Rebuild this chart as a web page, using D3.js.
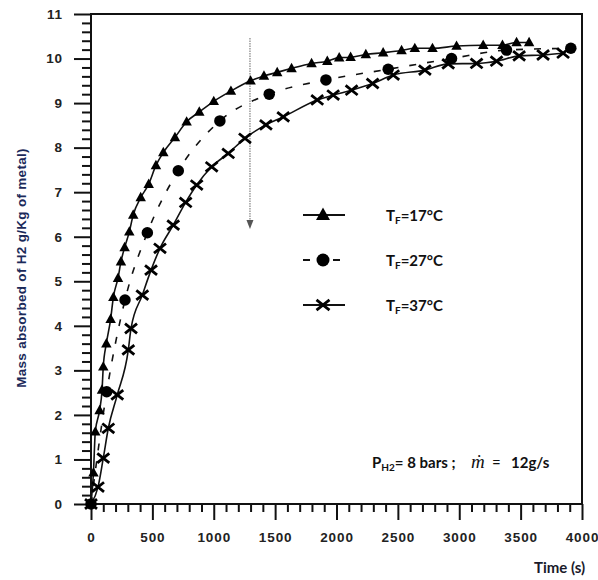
<!DOCTYPE html>
<html>
<head>
<meta charset="utf-8">
<script src="https://cdn.jsdelivr.net/npm/d3@7"></script>
<style>
  html, body { margin: 0; padding: 0; background: #fff; }
  svg { display: block; }
</style>
</head>
<body>
<svg id="chart" width="598" height="580"></svg>
<script>
// Hydrogen absorption curves at three fluid temperatures
const timeTicks = [0, 500, 1000, 1500, 2000, 2500, 3000, 3500, 4000];
const massTicks = [0, 1, 2, 3, 4, 5, 6, 7, 8, 9, 10, 11];

// T_F = 17 °C  (time s, mass g/kg)
const t17 = [0, 20, 35, 70, 90, 100, 125, 160, 182, 220, 244, 274, 312, 344, 405, 470, 529, 589, 684, 779, 882, 1000, 1140, 1300, 1409, 1517, 1634, 1797, 1925, 2022, 2115, 2239, 2380, 2530, 2638, 2782, 2978, 3195, 3352, 3467, 3569];
const m17 = [0, 0.7, 1.62, 2.1, 2.56, 3.08, 3.6, 4.15, 4.64, 5.07, 5.44, 5.76, 6.11, 6.49, 6.88, 7.18, 7.6, 7.89, 8.23, 8.58, 8.8, 9.04, 9.27, 9.5, 9.61, 9.69, 9.78, 9.89, 9.94, 10.02, 10.03, 10.09, 10.13, 10.18, 10.23, 10.23, 10.28, 10.3, 10.3, 10.36, 10.36];

// T_F = 27 °C
const t27 = [0, 128, 277, 459, 711, 1050, 1452, 1914, 2421, 2937, 3385, 3909];
const m27 = [0, 2.52, 4.58, 6.09, 7.48, 8.6, 9.2, 9.52, 9.76, 10.0, 10.19, 10.23];

// T_F = 37 °C
const t37 = [0, 57, 100, 141, 214, 304, 326, 418, 489, 562, 670, 771, 861, 983, 1118, 1254, 1425, 1566, 1843, 1973, 2123, 2294, 2462, 2720, 2910, 3141, 3304, 3488, 3683, 3846];
const m37 = [0, 0.38, 1.03, 1.7, 2.45, 3.46, 3.94, 4.69, 5.25, 5.74, 6.26, 6.77, 7.16, 7.57, 7.87, 8.21, 8.51, 8.69, 9.07, 9.18, 9.29, 9.44, 9.63, 9.74, 9.88, 9.89, 9.94, 10.06, 10.08, 10.12];

const arrowTime = 1295;

const svg = d3.select("#chart");
const plotL = 91, plotR = 582, plotT = 14, plotB = 504;

const x = d3.scaleLinear().domain([0, 4000]).range([plotL, plotR]);
const y = d3.scaleLinear().domain([0, 11]).range([plotB, plotT]);

const tickFont = "'Liberation Sans', Arial, sans-serif";
const textFont = "Lato, 'Open Sans', sans-serif";

// Frame
svg.append("rect")
  .attr("x", plotL).attr("y", plotT)
  .attr("width", plotR - plotL).attr("height", plotB - plotT)
  .attr("fill", "none").attr("stroke", "#111").attr("stroke-width", 2);

// Minor ticks
const minorX = d3.range(0, 4001, 100).filter(v => v % 500 !== 0);
const minorY = d3.range(0, 55).map(i => +(i * 0.2).toFixed(1)).filter(v => Math.abs(v - Math.round(v)) > 1e-6);

const styleAxis = g => {
  g.select(".domain").remove();
  g.selectAll(".tick line").attr("stroke", "#111").attr("stroke-width", 2);
};

svg.append("g").attr("transform", `translate(0,${plotB})`)
  .call(d3.axisBottom(x).tickValues(minorX).tickSize(8).tickFormat(""))
  .call(styleAxis);
svg.append("g").attr("transform", `translate(${plotL},0)`)
  .call(d3.axisLeft(y).tickValues(minorY).tickSize(9).tickFormat(""))
  .call(styleAxis);

// Major ticks with labels
const gx = svg.append("g").attr("transform", `translate(0,${plotB})`)
  .call(d3.axisBottom(x).tickValues(timeTicks).tickSize(16).tickPadding(12).tickFormat(d3.format("d")))
  .call(styleAxis);
gx.selectAll("text").attr("font-family", tickFont).attr("font-size", 13.5)
  .attr("font-weight", "bold").attr("fill", "#222").attr("letter-spacing", 0.9);

const gy = svg.append("g").attr("transform", `translate(${plotL},0)`)
  .call(d3.axisLeft(y).tickValues(massTicks).tickSize(17).tickPadding(11).tickFormat(d3.format("d")))
  .call(styleAxis);
gy.selectAll("text").attr("font-family", tickFont).attr("font-size", 13.5)
  .attr("font-weight", "bold").attr("fill", "#222").attr("letter-spacing", 0.9);

// Axis lines on top of the ticks
svg.append("line").attr("x1", plotL).attr("x2", plotR).attr("y1", plotB).attr("y2", plotB)
  .attr("stroke", "#111").attr("stroke-width", 2);
svg.append("line").attr("x1", plotL).attr("x2", plotL).attr("y1", plotT).attr("y2", plotB)
  .attr("stroke", "#111").attr("stroke-width", 2);

// Axis titles
svg.append("text")
  .attr("transform", `translate(26,268) rotate(-90)`)
  .attr("text-anchor", "middle")
  .attr("font-family", tickFont).attr("font-size", 13.5).attr("font-weight", "bold")
  .attr("letter-spacing", 0.3)
  .attr("fill", "#1b2a5a")
  .text("Mass  absorbed of H2 g/Kg of metal)");

svg.append("text")
  .attr("x", 534).attr("y", 573)
  .attr("font-family", textFont).attr("font-size", 15).attr("font-weight", "bold")
  .attr("fill", "#1a1a2a")
  .text("Time (s)");

// Time-direction arrow
const ax = x(arrowTime);
svg.append("line").attr("x1", ax).attr("x2", ax).attr("y1", 38).attr("y2", 221)
  .attr("stroke", "#9a9a9a").attr("stroke-width", 1.5).attr("stroke-dasharray", "1.5,1");
svg.append("path")
  .attr("d", `M${ax - 3.5},220 L${ax + 3.5},220 L${ax},229 Z`)
  .attr("fill", "#555");

// Curves
const lineGen = d3.line().x(d => x(d[0])).y(d => y(d[1])).curve(d3.curveMonotoneX);
const series = [
  { t: t17, m: m17, marker: "triangle", dash: null },
  { t: t27, m: m27, marker: "circle", dash: "7,11" },
  { t: t37, m: m37, marker: "cross", dash: null }
];

series.forEach(s => {
  const pts = s.t.map((t, i) => [t, s.m[i]]);
  svg.append("path").datum(pts)
    .attr("d", lineGen)
    .attr("fill", "none").attr("stroke", "#111").attr("stroke-width", 1.6)
    .attr("stroke-dasharray", s.dash);
});

function drawMarker(g, kind, cx, cy, size) {
  if (kind === "triangle") {
    const h = size * 0.9;
    g.append("path")
      .attr("d", `M${cx},${cy - h * 0.6} L${cx + size / 2},${cy + h * 0.4} L${cx - size / 2},${cy + h * 0.4} Z`)
      .attr("fill", "#000");
  } else if (kind === "circle") {
    g.append("circle").attr("cx", cx).attr("cy", cy).attr("r", size / 2).attr("fill", "#000");
  } else {
    const r = size / 2;
    g.append("path")
      .attr("d", `M${cx - r},${cy - r * 0.8} L${cx + r},${cy + r * 0.8} M${cx - r},${cy + r * 0.8} L${cx + r},${cy - r * 0.8}`)
      .attr("stroke", "#000").attr("stroke-width", 2.8).attr("fill", "none");
  }
}

const markers = svg.append("g");
series.forEach(s => {
  s.t.forEach((t, i) => {
    const size = s.marker === "triangle" ? 10.5 : s.marker === "circle" ? 11.5 : 12;
    drawMarker(markers, s.marker, x(t), y(s.m[i]), size);
  });
});

// Legend
const legendItems = [
  { label: "=17°C", marker: "triangle", dash: null, yy: 215 },
  { label: "=27°C", marker: "circle", dash: "7,23", yy: 260 },
  { label: "=37°C", marker: "cross", dash: null, yy: 305 }
];
const lg = svg.append("g");
legendItems.forEach(it => {
  lg.append("line").attr("x1", 303).attr("x2", 345).attr("y1", it.yy).attr("y2", it.yy)
    .attr("stroke", "#111").attr("stroke-width", 1.8).attr("stroke-dasharray", it.dash);
  drawMarker(lg, it.marker, 323, it.yy, it.marker === "triangle" ? 14 : 13);
  const tx = lg.append("text").attr("x", 386).attr("y", it.yy + 6)
    .attr("font-family", textFont).attr("font-size", 15).attr("font-weight", "bold").attr("fill", "#111");
  tx.append("tspan").text("T");
  tx.append("tspan").attr("font-size", 10).attr("dy", 3).text("F");
  tx.append("tspan").attr("dy", -3).text(it.label);
});

// Operating conditions
const note = svg.append("text").attr("x", 372).attr("y", 468)
  .attr("font-family", textFont).attr("font-size", 15).attr("font-weight", "bold").attr("fill", "#111");
note.append("tspan").text("P");
note.append("tspan").attr("font-size", 10).attr("dy", 3).text("H2");
note.append("tspan").attr("dy", -3).text("= 8 bars ;");
note.append("tspan").attr("x", 471).attr("font-family", "'Liberation Serif', 'DejaVu Serif', serif")
  .attr("font-style", "italic").attr("font-weight", "normal").attr("font-size", 19).text("ṁ");
note.append("tspan").attr("x", 492).attr("font-weight", "normal").text("=");
note.append("tspan").attr("x", 511).text("12g/s");
</script>
</body>
</html>
